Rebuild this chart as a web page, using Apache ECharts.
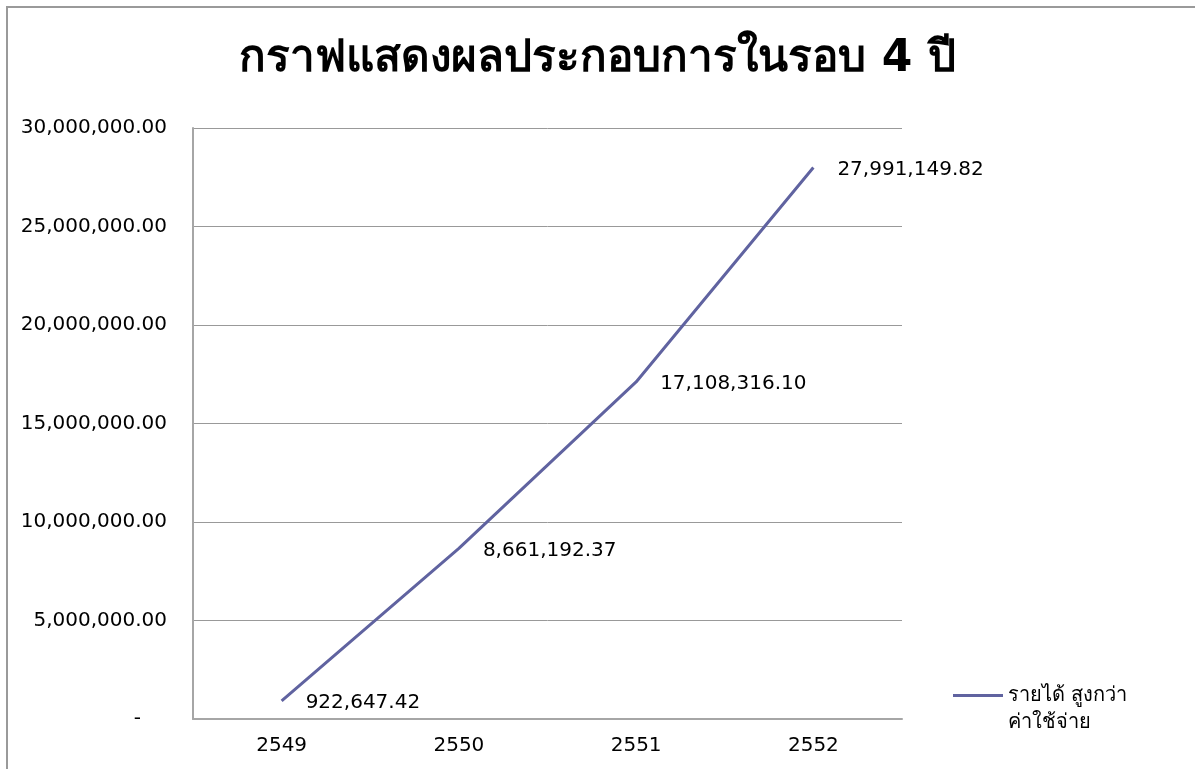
<!DOCTYPE html>
<html>
<head>
<meta charset="utf-8">
<script src="https://cdn.jsdelivr.net/npm/echarts@6/dist/echarts.min.js"></script>
<style>
  html, body { margin: 0; padding: 0; background: #fff; }
  #chart { width: 1195px; height: 769px; }
</style>
</head>
<body>
<div id="chart"></div>
<script>
// ข้อมูล
const years = ['2549', '2550', '2551', '2552']
const profit = [922647.42, 8661192.37, 17108316.10, 27991149.82]
const seriesName = 'รายได้ สูงกว่า ค่าใช้จ่าย'
const legendLines = ['รายได้ สูงกว่า', 'ค่าใช้จ่าย']
const yTicks = [0, 5000000, 10000000, 15000000, 20000000, 25000000, 30000000]

const font = 'Tahoma, "DejaVu Sans", sans-serif'
const lineColor = '#6063a0'

function money(v) {
  return v.toLocaleString('en-US', {minimumFractionDigits: 2, maximumFractionDigits: 2})
}

const chart = echarts.init(document.getElementById('chart'))
chart.setOption({
  backgroundColor: '#fff',
  textStyle: {fontFamily: font},
  animation: false,
  title: {
    text: 'กราฟแสดงผลประกอบการในรอบ 4 ปี',
    left: 'center',
    top: 33,
    textStyle: {fontSize: 44, fontWeight: 'bold', color: '#000', fontFamily: font}
  },
  // กรอบของแผนภูมิ (ด้านซ้ายและด้านบน)
  graphic: [
    {
      type: 'polyline',
      shape: {points: [[7, 800], [7, 7], [1220, 7]]},
      style: {fill: 'none', stroke: '#9a9a9a', lineWidth: 2},
      silent: true
    }
  ],
  grid: {left: 193, top: 128, right: 293, bottom: 50},
  legend: {
    data: [seriesName],
    left: 953,
    top: 655,
    padding: 0,
    icon: 'rect',
    itemWidth: 50,
    itemHeight: 3,
    formatter: () => ' \n' + legendLines.join('\n'),
    textStyle: {fontSize: 20, color: '#000', fontFamily: font, lineHeight: 27}
  },
  xAxis: {
    type: 'category',
    data: years,
    boundaryGap: true,
    axisLine: {lineStyle: {color: '#a6a6a6', width: 2}},
    axisTick: {show: false},
    axisLabel: {color: '#000', fontSize: 20, margin: 17, fontFamily: font}
  },
  yAxis: {
    type: 'value',
    min: yTicks[0],
    max: yTicks[yTicks.length - 1],
    interval: 5000000,
    axisLine: {show: true, lineStyle: {color: '#a6a6a6', width: 2}},
    axisTick: {show: false},
    splitLine: {lineStyle: {color: '#999', width: 1}},
    axisLabel: {
      color: '#000',
      fontSize: 20,
      margin: 26,
      fontFamily: font,
      formatter: v => v === 0 ? '{z|-}' : money(v),
      rich: {z: {fontSize: 20, padding: [0, 26, 0, 0], fontFamily: font}}
    }
  },
  series: [
    {
      name: seriesName,
      type: 'line',
      data: profit,
      symbol: 'circle',
      symbolSize: 0,
      showSymbol: true,
      lineStyle: {color: lineColor, width: 3},
      itemStyle: {color: lineColor},
      label: {
        show: true,
        position: 'right',
        distance: 24,
        offset: [0, 2],
        color: '#000',
        fontSize: 20,
        fontFamily: font,
        formatter: p => money(p.value)
      }
    }
  ]
})
</script>
</body>
</html>
